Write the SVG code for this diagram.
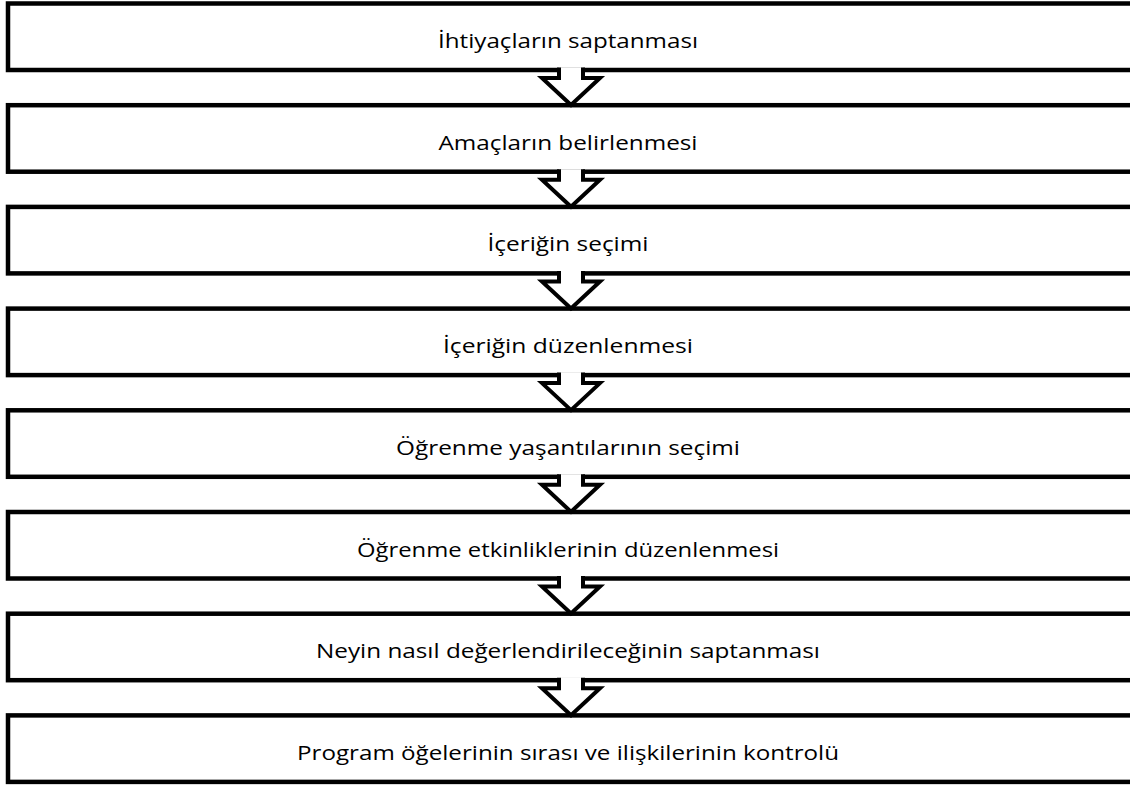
<svg xmlns="http://www.w3.org/2000/svg" width="1130" height="785" viewBox="0 0 1130 785">
  <style>
    .box { fill: #ffffff; stroke: #000000; stroke-width: 4.5; }
    .lbl { font-family: "Open Sans", "Liberation Sans", sans-serif; font-size: 19.5px; fill: #000000; text-anchor: middle; }
    .afill { fill: #ffffff; stroke: none; }
    .aline { fill: none; stroke: #000000; stroke-width: 4; stroke-linejoin: miter; stroke-linecap: butt; }
  </style>
  <defs>
    <g id="arrow">
      <path class="afill" d="M-12,-2.5 L-12,8 L-29,8 L0,35 L29,8 L12,8 L12,-2.5 Z"/>
      <path class="aline" d="M-12,-2.5 L-12,8 L-29,8 L0,35 L29,8 L12,8 L12,-2.5"/>
    </g>
  </defs>
  <rect width="1130" height="785" fill="#ffffff"/>
  <g id="node1"><rect class="box" x="8" y="3.5" width="1126" height="66.5"/><text class="lbl" x="568" y="48" textLength="260" lengthAdjust="spacingAndGlyphs">İhtiyaçların saptanması</text></g>
  <g id="node2"><rect class="box" x="8" y="105.2" width="1126" height="66.5"/><text class="lbl" x="568" y="149.7" textLength="259" lengthAdjust="spacingAndGlyphs">Amaçların belirlenmesi</text></g>
  <g id="node3"><rect class="box" x="8" y="206.9" width="1126" height="66.5"/><text class="lbl" x="568" y="251.4" textLength="161" lengthAdjust="spacingAndGlyphs">İçeriğin seçimi</text></g>
  <g id="node4"><rect class="box" x="8" y="308.6" width="1126" height="66.5"/><text class="lbl" x="568" y="353.1" textLength="250" lengthAdjust="spacingAndGlyphs">İçeriğin düzenlenmesi</text></g>
  <g id="node5"><rect class="box" x="8" y="410.3" width="1126" height="66.5"/><text class="lbl" x="568" y="454.8" textLength="344" lengthAdjust="spacingAndGlyphs">Öğrenme yaşantılarının seçimi</text></g>
  <g id="node6"><rect class="box" x="8" y="512" width="1126" height="66.5"/><text class="lbl" x="568" y="556.5" textLength="422" lengthAdjust="spacingAndGlyphs">Öğrenme etkinliklerinin düzenlenmesi</text></g>
  <g id="node7"><rect class="box" x="8" y="613.7" width="1126" height="66.5"/><text class="lbl" x="568" y="658.2" textLength="504" lengthAdjust="spacingAndGlyphs">Neyin nasıl değerlendirileceğinin saptanması</text></g>
  <g id="node8"><rect class="box" x="8" y="715.4" width="1126" height="66.5"/><text class="lbl" x="568" y="759.9" textLength="542" lengthAdjust="spacingAndGlyphs">Program öğelerinin sırası ve ilişkilerinin kontrolü</text></g>
  <g id="connectors">
    <use href="#arrow" transform="translate(571,70)"/>
    <use href="#arrow" transform="translate(571,171.7)"/>
    <use href="#arrow" transform="translate(571,273.4)"/>
    <use href="#arrow" transform="translate(571,375.1)"/>
    <use href="#arrow" transform="translate(571,476.8)"/>
    <use href="#arrow" transform="translate(571,578.5)"/>
    <use href="#arrow" transform="translate(571,680.2)"/>
  </g>
</svg>
